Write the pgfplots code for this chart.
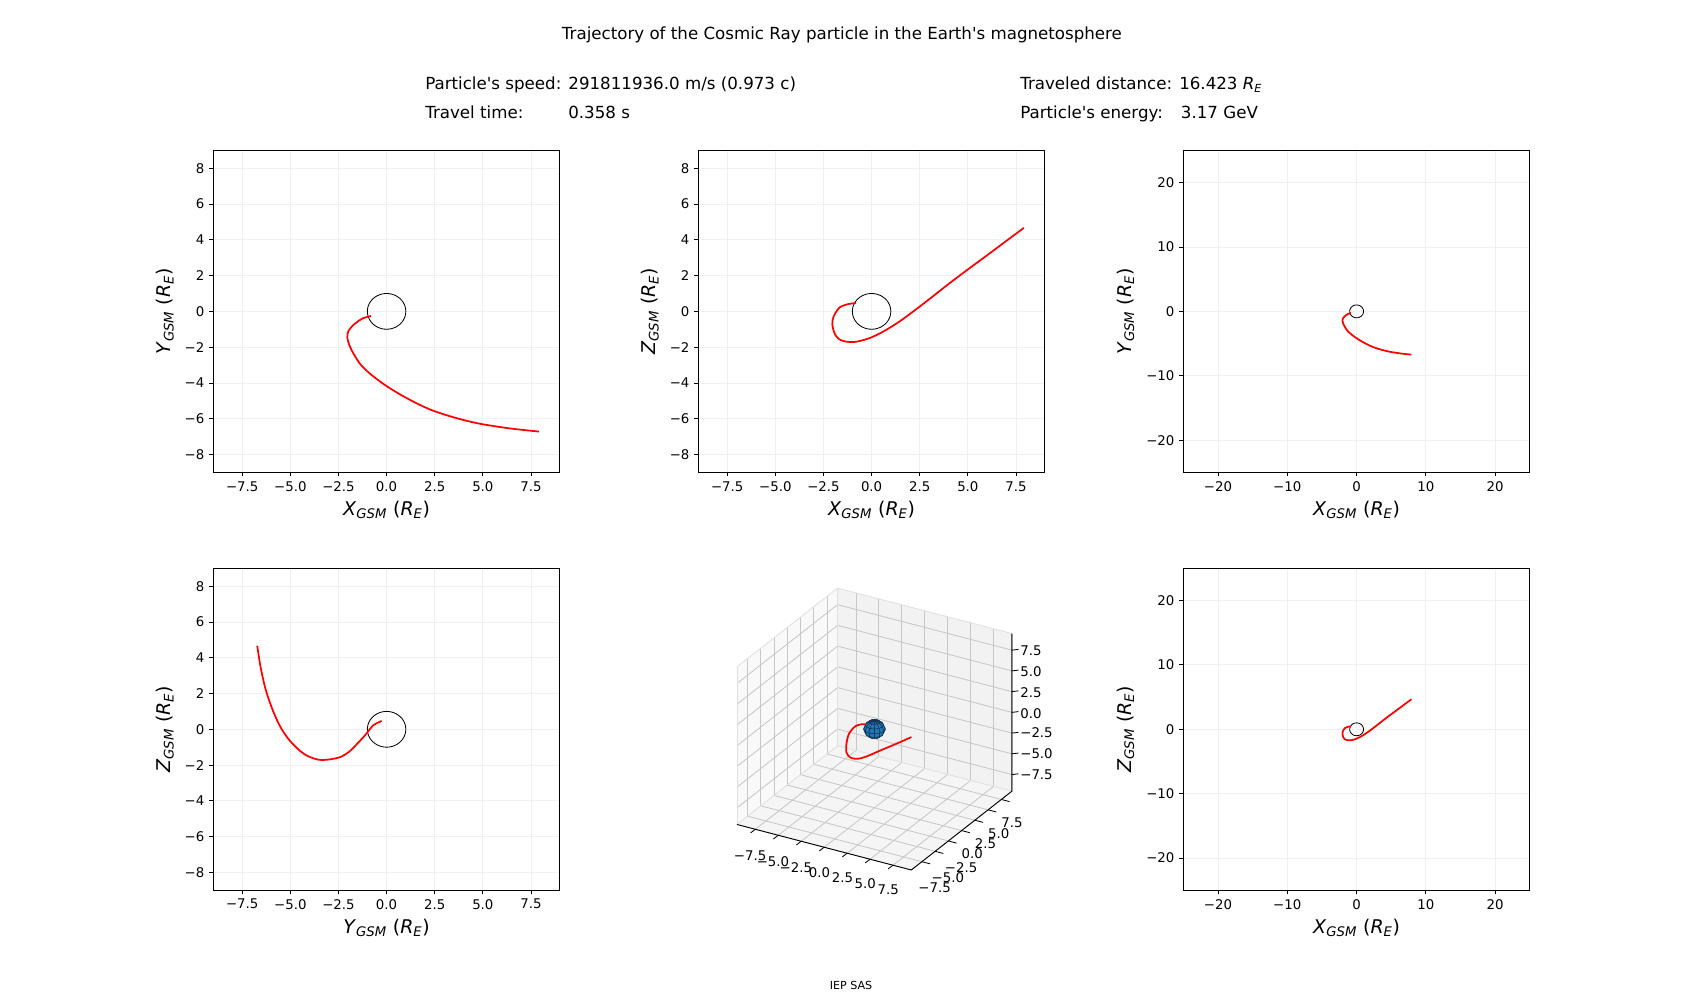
\documentclass[border=0pt]{standalone}
\usepackage{fontspec}
\setmainfont{DejaVu Sans}
\usepackage{pgfplots}
\pgfplotsset{compat=1.18}
\usepackage{pgfplotstable}

\definecolor{earthblue}{RGB}{31,119,180}
\definecolor{earthedge}{RGB}{20,45,80}

\pgfplotstableread{
x y z
-0.81 -0.26 0.47
-1.24 -0.39 0.40
-1.67 -0.71 0.21
-1.98 -1.09 -0.30
-2.04 -1.46 -0.73
-1.92 -1.93 -1.24
-1.70 -2.40 -1.55
-1.33 -3.00 -1.69
-0.81 -3.53 -1.70
-0.12 -4.09 -1.50
0.57 -4.56 -1.15
1.43 -5.07 -0.58
2.29 -5.50 0.10
3.16 -5.82 0.82
4.02 -6.08 1.55
4.88 -6.29 2.25
5.74 -6.44 2.93
6.60 -6.57 3.62
7.91 -6.72 4.67
}\traj

\pgfplotstableread{
cx cy
1 0
0.966 0.259
0.866 0.5
0.707 0.707
0.5 0.866
0.259 0.966
0 1
-0.259 0.966
-0.5 0.866
-0.707 0.707
-0.866 0.5
-0.966 0.259
-1 0
-0.966 -0.259
-0.866 -0.5
-0.707 -0.707
-0.5 -0.866
-0.259 -0.966
0 -1
0.259 -0.966
0.5 -0.866
0.707 -0.707
0.866 -0.5
0.966 -0.259
1 0
}\earth

\newcommand{\lab}[2]{\textit{#1}\textsubscript{\textit{#2}} (\textit{R}\textsubscript{\textit{E}})}

\pgfplotsset{
  panel/.style={scale only axis, width=249.5pt, height=231.8pt, anchor=south west,
    tick pos=left, tick align=outside, major tick length=2.9pt,
    tick style={black, line width=0.6pt},
    axis line style={line width=0.66pt},
    grid=major, grid style={black!6, line width=0.6pt},
    ticklabel style={font=\fontsize{9.6}{11}\selectfont},
    label style={font=\fontsize{13.6}{15}\selectfont},
    xlabel style={at={(axis description cs:0.5,-0.118)}, anchor=center},
    ylabel style={at={(axis description cs:-0.139,0.5)}, anchor=center},
  },
  small/.style={panel, xmin=-9, xmax=9, ymin=-9, ymax=9,
    xtick={-7.5,-5,-2.5,0,2.5,5,7.5}, xticklabels={−7.5,−5.0,−2.5,0.0,2.5,5.0,7.5},
    ytick={-8,-6,-4,-2,0,2,4,6,8}, yticklabels={−8,−6,−4,−2,0,2,4,6,8}},
  big/.style={panel, xmin=-25, xmax=25, ymin=-25, ymax=25,
    xtick={-20,-10,0,10,20}, xticklabels={−20,−10,0,10,20},
    ytick={-20,-10,0,10,20}, yticklabels={−20,−10,0,10,20},
    ylabel style={at={(axis description cs:-0.167,0.5)}}},
  trajst/.style={red, line width=1.25pt, smooth},
  earthst/.style={black, line width=0.6pt, smooth},
}

\begin{document}
\begin{tikzpicture}

\node[anchor=base, font=\fontsize{12}{14}\selectfont] at (606.2pt,691.4pt) {Trajectory of the Cosmic Ray particle in the Earth\textquotesingle s magnetosphere};
\node[anchor=base west, inner sep=0pt, font=\fontsize{12}{14}\selectfont] at (306pt,655.5pt) {Particle\textquotesingle s speed: 291811936.0 m/s (0.973 c)};
\node[anchor=base west, inner sep=0pt, font=\fontsize{12}{14}\selectfont] at (306pt,635.0pt) {Travel time:};
\node[anchor=base west, inner sep=0pt, font=\fontsize{12}{14}\selectfont] at (409pt,635.0pt) {0.358 s};
\node[anchor=base west, inner sep=0pt, font=\fontsize{12}{14}\selectfont] at (734.4pt,655.5pt) {Traveled distance: 16.423 \textit{R}\textsubscript{\textit{E}}};
\node[anchor=base west, inner sep=0pt, font=\fontsize{12}{14}\selectfont] at (734.4pt,635.0pt) {Particle\textquotesingle s energy:};
\node[anchor=base west, inner sep=0pt, font=\fontsize{12}{14}\selectfont] at (850.1pt,635.0pt) {3.17 GeV};
\node[anchor=center, font=\fontsize{8}{10}\selectfont] at (612.7pt,10.4pt) {IEP SAS};

% top-left XY
\begin{axis}[small, at={(153.6pt,379.9pt)}, xlabel={\lab{X}{GSM}}, ylabel={\lab{Y}{GSM}}]
\addplot[earthst] table[x=cx,y=cy]{\earth};
\addplot[trajst] table[x=x,y=y]{\traj};
\end{axis}

% top-middle XZ
\begin{axis}[small, at={(502.8pt,379.9pt)}, xlabel={\lab{X}{GSM}}, ylabel={\lab{Z}{GSM}}]
\addplot[earthst] table[x=cx,y=cy]{\earth};
\addplot[trajst] table[x=x,y=z]{\traj};
\end{axis}

% top-right XY big
\begin{axis}[big, at={(852.0pt,379.9pt)}, xlabel={\lab{X}{GSM}}, ylabel={\lab{Y}{GSM}}]
\addplot[earthst] table[x=cx,y=cy]{\earth};
\addplot[trajst] table[x=x,y=y]{\traj};
\end{axis}

% bottom-left YZ
\begin{axis}[small, at={(153.6pt,79.0pt)}, xlabel={\lab{Y}{GSM}}, ylabel={\lab{Z}{GSM}}]
\addplot[earthst] table[x=cx,y=cy]{\earth};
\addplot[trajst] table[x=y,y=z]{\traj};
\end{axis}

% bottom-right XZ big
\begin{axis}[big, at={(852.0pt,79.0pt)}, xlabel={\lab{X}{GSM}}, ylabel={\lab{Z}{GSM}}]
\addplot[earthst] table[x=cx,y=cy]{\earth};
\addplot[trajst] table[x=x,y=z]{\traj};
\end{axis}

% 3D
\begin{axis}[set layers, at={(629.6pt,195.1pt)}, anchor=center, clip=false,
  view={30}{30}, scale only axis, width=198pt, height=203pt,
  xmin=-9.5, xmax=9.5, ymin=-9.5, ymax=9.5, zmin=-9.5, zmax=9.5,
  xtick={-7.5,-5,-2.5,0,2.5,5,7.5}, xticklabels={−7.5,−5.0,−2.5,0.0,2.5,5.0,7.5},
  ytick={-7.5,-5,-2.5,0,2.5,5,7.5}, yticklabels={−7.5,−5.0,−2.5,0.0,2.5,5.0,7.5},
  ztick={-7.5,-5,-2.5,0,2.5,5,7.5}, zticklabels={−7.5,−5.0,−2.5,0.0,2.5,5.0,7.5},
  zticklabel pos=right,
  grid=major, grid style={black!22, line width=0.6pt},
  axis line style={black!12, line width=0.6pt},
  major tick length=0pt, tick style={draw=none},
  ticklabel style={font=\fontsize{9.6}{11}\selectfont},
  xticklabel style={yshift=-9pt, xshift=1pt},
  yticklabel style={yshift=-7pt},
  zticklabel style={xshift=2.5pt, yshift=-3pt},
  unbounded coords=jump,
]
\addplot3[on layer=axis background, fill=black!2.5, draw=none] coordinates {(-9.5,-9.5,-9.5) (-9.5,9.5,-9.5) (-9.5,9.5,9.5) (-9.5,-9.5,9.5)};
\addplot3[on layer=axis background, fill=black!5, draw=none] coordinates {(-9.5,9.5,-9.5) (9.5,9.5,-9.5) (9.5,9.5,9.5) (-9.5,9.5,9.5)};
\addplot3[on layer=axis background, fill=black!3.75, draw=none] coordinates {(-9.5,-9.5,-9.5) (9.5,-9.5,-9.5) (9.5,9.5,-9.5) (-9.5,9.5,-9.5)};
\addplot3[black, line width=0.66pt] coordinates {(-9.5,-9.5,-9.5) (9.5,-9.5,-9.5) (9.5,9.5,-9.5) (9.5,9.5,9.5)};
% tick marks on the three drawn axes
\addplot3[black, line width=0.6pt] coordinates {
(-7.5,-9.5,-9.5) (-7.5,-10.4,-9.5) (nan,nan,nan)
(-5,-9.5,-9.5) (-5,-10.4,-9.5) (nan,nan,nan)
(-2.5,-9.5,-9.5) (-2.5,-10.4,-9.5) (nan,nan,nan)
(0,-9.5,-9.5) (0,-10.4,-9.5) (nan,nan,nan)
(2.5,-9.5,-9.5) (2.5,-10.4,-9.5) (nan,nan,nan)
(5,-9.5,-9.5) (5,-10.4,-9.5) (nan,nan,nan)
(7.5,-9.5,-9.5) (7.5,-10.4,-9.5) (nan,nan,nan)
(9.5,-7.5,-9.5) (10.4,-7.5,-9.5) (nan,nan,nan)
(9.5,-5,-9.5) (10.4,-5,-9.5) (nan,nan,nan)
(9.5,-2.5,-9.5) (10.4,-2.5,-9.5) (nan,nan,nan)
(9.5,0,-9.5) (10.4,0,-9.5) (nan,nan,nan)
(9.5,2.5,-9.5) (10.4,2.5,-9.5) (nan,nan,nan)
(9.5,5,-9.5) (10.4,5,-9.5) (nan,nan,nan)
(9.5,7.5,-9.5) (10.4,7.5,-9.5) (nan,nan,nan)
(9.5,9.5,-7.5) (9.95,9.95,-7.5) (nan,nan,nan)
(9.5,9.5,-5) (9.95,9.95,-5) (nan,nan,nan)
(9.5,9.5,-2.5) (9.95,9.95,-2.5) (nan,nan,nan)
(9.5,9.5,0) (9.95,9.95,0) (nan,nan,nan)
(9.5,9.5,2.5) (9.95,9.95,2.5) (nan,nan,nan)
(9.5,9.5,5) (9.95,9.95,5) (nan,nan,nan)
(9.5,9.5,7.5) (9.95,9.95,7.5)
};
\addplot3[surf, shader=faceted, z buffer=sort, faceted color=earthedge, line width=0.3pt,
  colormap={earthmap}{color=(earthblue) color=(earthblue)}, mesh/cols=7] coordinates {
(0,0,1) (0.5,0,0.866) (0.866,0,0.5) (1,0,0) (0.866,0,-0.5) (0.5,0,-0.866) (0,0,-1)
(0,0,1) (0.433,0.25,0.866) (0.75,0.433,0.5) (0.866,0.5,0) (0.75,0.433,-0.5) (0.433,0.25,-0.866) (0,0,-1)
(0,0,1) (0.25,0.433,0.866) (0.433,0.75,0.5) (0.5,0.866,0) (0.433,0.75,-0.5) (0.25,0.433,-0.866) (0,0,-1)
(0,0,1) (0,0.5,0.866) (0,0.866,0.5) (0,1,0) (0,0.866,-0.5) (0,0.5,-0.866) (0,0,-1)
(0,0,1) (-0.25,0.433,0.866) (-0.433,0.75,0.5) (-0.5,0.866,0) (-0.433,0.75,-0.5) (-0.25,0.433,-0.866) (0,0,-1)
(0,0,1) (-0.433,0.25,0.866) (-0.75,0.433,0.5) (-0.866,0.5,0) (-0.75,0.433,-0.5) (-0.433,0.25,-0.866) (0,0,-1)
(0,0,1) (-0.5,0,0.866) (-0.866,0,0.5) (-1,0,0) (-0.866,0,-0.5) (-0.5,0,-0.866) (0,0,-1)
(0,0,1) (-0.433,-0.25,0.866) (-0.75,-0.433,0.5) (-0.866,-0.5,0) (-0.75,-0.433,-0.5) (-0.433,-0.25,-0.866) (0,0,-1)
(0,0,1) (-0.25,-0.433,0.866) (-0.433,-0.75,0.5) (-0.5,-0.866,0) (-0.433,-0.75,-0.5) (-0.25,-0.433,-0.866) (0,0,-1)
(0,0,1) (0,-0.5,0.866) (0,-0.866,0.5) (0,-1,0) (0,-0.866,-0.5) (0,-0.5,-0.866) (0,0,-1)
(0,0,1) (0.25,-0.433,0.866) (0.433,-0.75,0.5) (0.5,-0.866,0) (0.433,-0.75,-0.5) (0.25,-0.433,-0.866) (0,0,-1)
(0,0,1) (0.433,-0.25,0.866) (0.75,-0.433,0.5) (0.866,-0.5,0) (0.75,-0.433,-0.5) (0.433,-0.25,-0.866) (0,0,-1)
(0,0,1) (0.5,0,0.866) (0.866,0,0.5) (1,0,0) (0.866,0,-0.5) (0.5,0,-0.866) (0,0,-1)
};
\addplot3[red, line width=1.25pt, smooth] table[x=x,y=y,z=z]{\traj};
\end{axis}

\pgfresetboundingbox
\useasboundingbox (0,0) rectangle (1224pt,720pt);
\end{tikzpicture}
\end{document}
